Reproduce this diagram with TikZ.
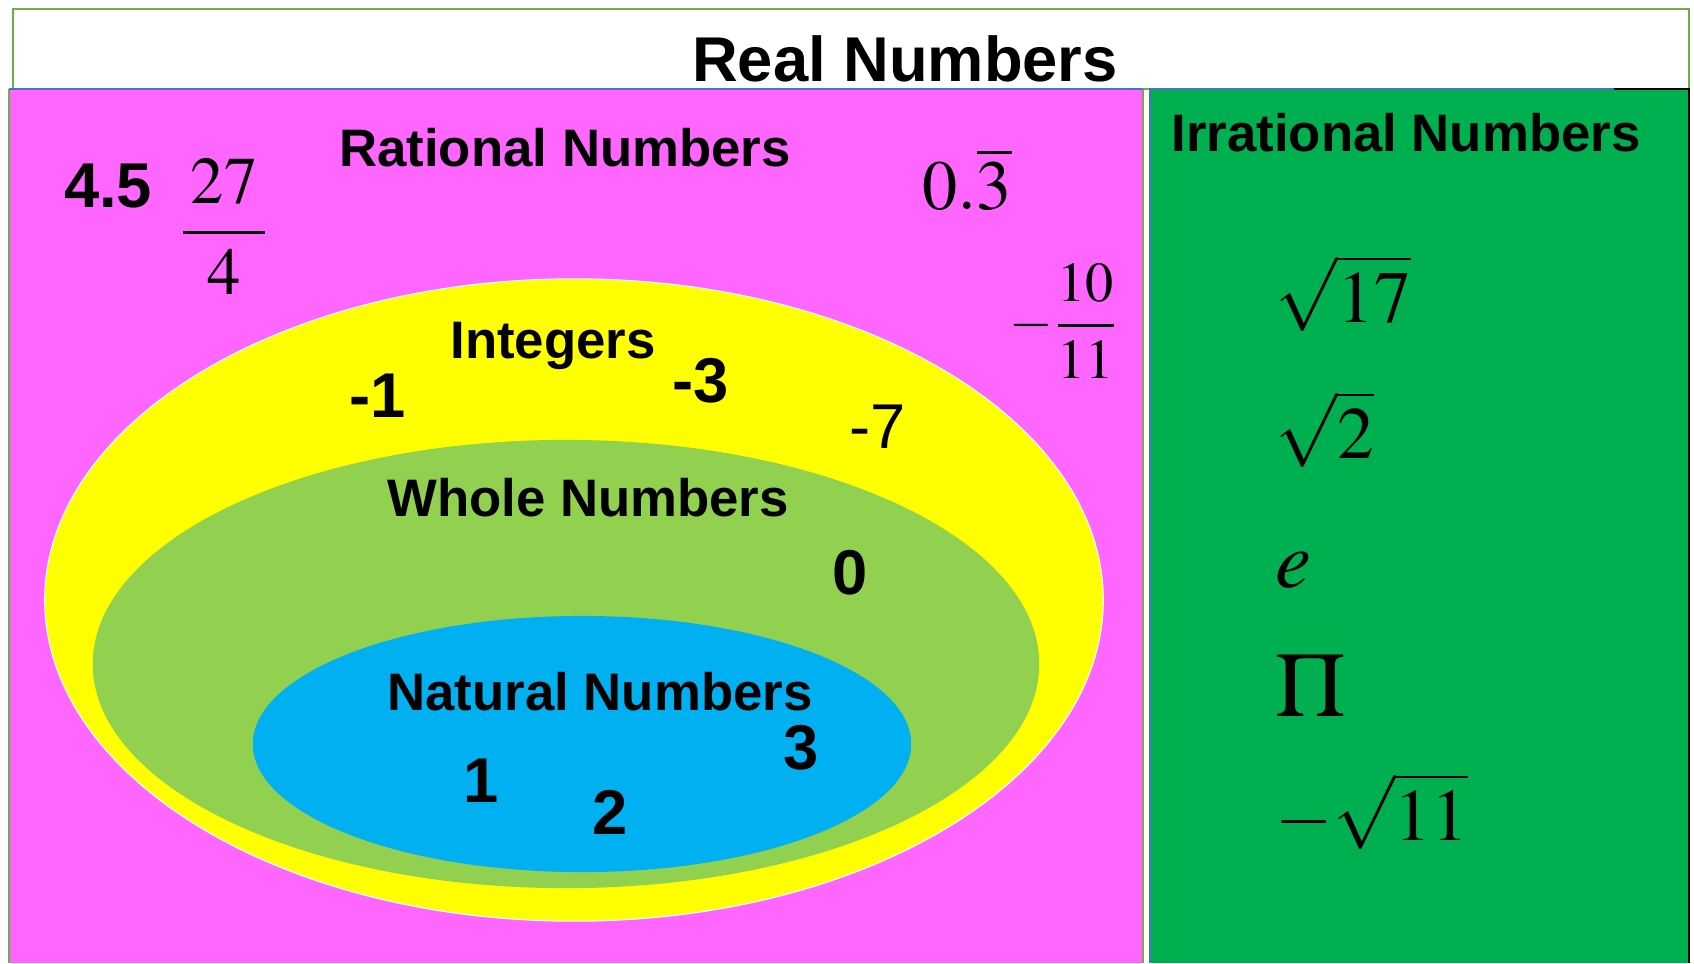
\documentclass[tikz,border=0pt]{standalone}
\usepackage{amsmath}
\usepackage{mathptmx}
\usepackage{fontspec}
\setmainfont{Liberation Serif}
\setsansfont{Liberation Sans}
\usetikzlibrary{shapes.geometric, positioning}

\definecolor{ratpink}{RGB}{255,102,255}
\definecolor{irrgreen}{RGB}{0,176,80}
\definecolor{intyellow}{RGB}{255,255,0}
\definecolor{wholegreen}{RGB}{146,208,80}
\definecolor{natblue}{RGB}{0,176,240}
\definecolor{frameline}{RGB}{112,173,71}
\definecolor{edgeblue}{RGB}{68,114,196}

\begin{document}
\begin{tikzpicture}[
    x=0.01cm, y=-0.01cm,
    settitle/.style={font=\sffamily\bfseries\fontsize{18}{22}\selectfont, inner sep=0pt, anchor=base},
    setname/.style={font=\sffamily\bfseries\fontsize{15}{18}\selectfont, inner sep=0pt, anchor=base},
    num/.style={font=\sffamily\bfseries\fontsize{18}{22}\selectfont, inner sep=0pt, anchor=base},
    numlight/.style={font=\sffamily\fontsize{18}{22}\selectfont, inner sep=0pt, anchor=base},
    mathval/.style={inner sep=0pt, font=\fontsize{21}{26}\selectfont, anchor=west},
    region/.style={ellipse, inner sep=0pt, draw=white, line width=0.3pt}
]
\useasboundingbox (0,0) rectangle (1694,963);
\fill[white] (0,0) rectangle (1694,963);

% Boxes
\draw[frameline, line width=0.6pt] (13,9) rectangle (1689,89);
\fill[ratpink] (9,89) rectangle (1143,963);
\draw[frameline, line width=0.6pt] (9,89) -- (9,963) (1143,89) -- (1143,963);
\draw[edgeblue, line width=0.6pt] (9,89) -- (1143,89);
\fill[irrgreen] (1150,89) rectangle (1689,963);
\draw[edgeblue, line width=0.6pt] (1150,963) -- (1150,89) -- (1614,89);
\draw[black, line width=0.6pt] (1614,89) -- (1689,89) -- (1689,963);

% Sets
\node (integers) [region, fill=intyellow, minimum width=10.58cm, minimum height=6.42cm] at (574,600) {};
\node (whole) [region, fill=wholegreen, draw=none, minimum width=9.46cm, minimum height=4.48cm] at (566,664) {};
\node (natural) [region, fill=natblue, draw=none, minimum width=6.58cm, minimum height=2.56cm] at (582,744) {};

% Labels
\node (title) [settitle] at (905,81) {Real Numbers};
\node (rational) [setname] at (565,166) {Rational Numbers};
\node (irrational) [setname] at (1406,151) {Irrational Numbers};
\node (intlabel) [setname] at (553,358) {Integers};
\node (wholelabel) [setname] at (588,516) {Whole Numbers};
\node (natlabel) [setname] at (600,710) {Natural Numbers};

% Rational values
\node (fourhalf) [num] at (108,207) {4.5};
\node (frac) [inner sep=0pt, font=\fontsize{19}{23}\selectfont] at (224,227) {$\dfrac{\,27\,}{4}$};
\node (third) [inner sep=0pt, font=\fontsize{20}{24}\selectfont] at (967,179) {$0.\overline{3}$};
\node (tenth) [inner sep=0pt, font=\fontsize{16}{20}\selectfont] at (1064,321) {$-\dfrac{10}{11}$};

% Integers
\node (mone) [num] at (378,417) {-1};
\node (mthree) [num] at (701,402) {-3};
\node (mseven) [numlight] at (878,448) {-7};
\node (zero) [num] at (850,594) {0};
\node (one) [num] at (481,802) {1};
\node (two) [num] at (610,834) {2};
\node (three) [num] at (801,769) {3};

% Irrational values
\node (rseventeen) [mathval] at (1275,293) {$\sqrt{17}$};
\node (rtwo) [mathval] at (1275,429) {$\sqrt{2}$};
\node (euler) [mathval, font=\fontsize{23}{28}\selectfont] at (1275,570) {$e$};
\node (bigpi) [mathval, font=\fontsize{26}{31}\selectfont] at (1275,686) {$\Pi$};
\node (releven) [mathval] at (1275,811) {$-\sqrt{11}$};

\end{tikzpicture}
\end{document}
